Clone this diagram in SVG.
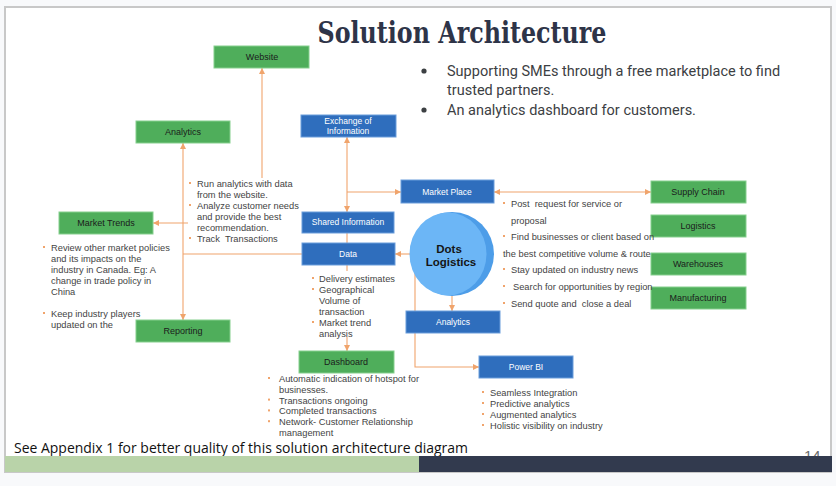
<svg xmlns="http://www.w3.org/2000/svg" width="836" height="486" viewBox="0 0 836 486">
<defs>
<style>
.bg{fill:#f8f9fb}
.slide{fill:#ffffff;stroke:#c8c8c8;stroke-width:2}
.g rect{fill:#4fae5b;stroke:#86cf8e;stroke-width:1}
.b rect{fill:#2f6ebd;stroke:#6a9ddb;stroke-width:1}
.g text{font-family:"Liberation Sans",Arial,sans-serif;font-size:9px;fill:#1b1b1b;text-anchor:middle}
.b text{font-family:"Liberation Sans",Arial,sans-serif;font-size:8.5px;fill:#ffffff;text-anchor:middle}
.c path{fill:none;stroke:#f0a46c;stroke-width:1.1}
.note text{font-family:"Liberation Sans",Arial,sans-serif;font-size:9.3px;fill:#444444;white-space:pre}
.note rect{fill:#f0a46c}
.top text{font-family:Roboto,"Liberation Sans",sans-serif;font-size:14.5px;fill:#3c4043}
</style>
<marker id="ar" viewBox="0 0 6 6" refX="6" refY="3" markerWidth="6" markerHeight="6" markerUnits="userSpaceOnUse" orient="auto-start-reverse">
<path d="M0,0 L6,3 L0,6 z" fill="#f0a46c"/>
</marker>
</defs>
<rect class="bg" x="0" y="0" width="836" height="486"/>
<rect class="slide" x="5" y="7" width="826" height="465"/>
<text x="462" y="43" font-family="'DejaVu Serif','Liberation Serif',serif" font-weight="bold" font-size="29" fill="#2e3448" text-anchor="middle" textLength="289" lengthAdjust="spacingAndGlyphs">Solution Architecture</text>
<g class="top">
<circle cx="424" cy="71" r="2.6" fill="#3c4043"/>
<text x="447" y="76">Supporting SMEs through a free marketplace to find</text>
<text x="447" y="95">trusted partners.</text>
<circle cx="424" cy="110" r="2.6" fill="#3c4043"/>
<text x="447" y="115">An analytics dashboard for customers.</text>
</g>

<g id="connectors" class="c">
<path d="M262,178 V68" marker-end="url(#ar)"/>
<path d="M183,320 V143" marker-start="url(#ar)" marker-end="url(#ar)"/>
<path d="M188,223 H153" marker-end="url(#ar)"/>
<path d="M183,254 H302"/>
<path d="M347,212 V137" marker-start="url(#ar)" marker-end="url(#ar)"/>
<path d="M347,192 H401" marker-end="url(#ar)"/>
<path d="M347,233 V243"/>
<path d="M412,254 H395" marker-end="url(#ar)"/>
<path d="M494,192 H651" marker-start="url(#ar)" marker-end="url(#ar)"/>
<path d="M452,296 V311" marker-end="url(#ar)"/>
<path d="M415,273 V367 H479" marker-end="url(#ar)"/>
<path d="M347,265 V271"/>
<path d="M347,337 V351" marker-end="url(#ar)"/>
</g>

<g id="website" class="g"><rect x="214" y="46" width="95" height="22"/><text x="262" y="60">Website</text></g>
<g id="analytics-green" class="g"><rect x="136" y="121" width="94" height="22"/><text x="183" y="135">Analytics</text></g>
<g id="market-trends" class="g"><rect x="59" y="212" width="94" height="22"/><text x="106" y="226">Market Trends</text></g>
<g id="reporting" class="g"><rect x="136" y="320" width="94" height="22"/><text x="183" y="334">Reporting</text></g>
<g id="dashboard" class="g"><rect x="299" y="351" width="95" height="22"/><text x="346" y="365">Dashboard</text></g>
<g id="supply-chain" class="g"><rect x="651" y="181" width="95" height="22"/><text x="698" y="195">Supply Chain</text></g>
<g id="logistics" class="g"><rect x="651" y="215" width="95" height="22"/><text x="698" y="229">Logistics</text></g>
<g id="warehouses" class="g"><rect x="651" y="253" width="95" height="22"/><text x="698" y="267">Warehouses</text></g>
<g id="manufacturing" class="g"><rect x="651" y="287" width="95" height="22"/><text x="698" y="301">Manufacturing</text></g>

<g id="exchange" class="b"><rect x="301" y="115" width="95" height="22"/><text x="348" y="124">Exchange of</text><text x="348" y="134">Information</text></g>
<g id="market-place" class="b"><rect x="401" y="180" width="93" height="23"/><text x="447" y="195">Market Place</text></g>
<g id="shared-info" class="b"><rect x="302" y="212" width="92" height="21"/><text x="348" y="225">Shared Information</text></g>
<g id="data" class="b"><rect x="302" y="243" width="93" height="22"/><text x="348" y="257">Data</text></g>
<g id="analytics-blue" class="b"><rect x="406" y="311" width="94" height="22"/><text x="453" y="325">Analytics</text></g>
<g id="power-bi" class="b"><rect x="479" y="356" width="94" height="22"/><text x="526" y="370" font-size="9.5">Power BI</text></g>

<g id="dots-logistics">
<circle cx="452" cy="254" r="42" fill="#4d9de8"/>
<ellipse cx="448" cy="254" rx="38.5" ry="41.5" fill="#6cb6f6"/>
<text x="449" y="253" font-family="'Liberation Sans',Arial,sans-serif" font-weight="bold" font-size="11.5" fill="#151515" text-anchor="middle">Dots</text>
<text x="451" y="266" font-family="'Liberation Sans',Arial,sans-serif" font-weight="bold" font-size="11.5" fill="#151515" text-anchor="middle">Logistics</text>
</g>

<g class="note">
<rect x="189" y="182" width="2" height="2"/><text x="197" y="187">Run analytics with data</text>
<text x="197" y="198">from the website.</text>
<rect x="189" y="204" width="2" height="2"/><text x="197" y="209">Analyze customer needs</text>
<text x="197" y="220">and provide the best</text>
<text x="197" y="231">recommendation.</text>
<rect x="189" y="237" width="2" height="2"/><text x="197" y="242">Track  Transactions</text>

<rect x="43" y="246" width="2" height="2"/><text x="51" y="251">Review other market policies</text>
<text x="51" y="262">and its impacts on the</text>
<text x="51" y="273">industry in Canada. Eg: A</text>
<text x="51" y="284">change in trade policy in</text>
<text x="51" y="295">China</text>
<rect x="43" y="312" width="2" height="2"/><text x="51" y="317">Keep industry players</text>
<text x="51" y="328">updated on the</text>

<rect x="312" y="277" width="2" height="2"/><text x="319" y="282">Delivery estimates</text>
<rect x="312" y="288" width="2" height="2"/><text x="319" y="293">Geographical</text>
<text x="319" y="304">Volume of</text>
<text x="319" y="315">transaction</text>
<rect x="312" y="321" width="2" height="2"/><text x="319" y="326">Market trend</text>
<text x="319" y="337">analysis</text>

<rect x="268" y="377" width="2" height="2"/><text x="279" y="382">Automatic indication of hotspot for</text>
<text x="279" y="392.8">businesses.</text>
<rect x="268" y="398.6" width="2" height="2"/><text x="279" y="403.6">Transactions ongoing</text>
<rect x="268" y="409.4" width="2" height="2"/><text x="279" y="414.4">Completed transactions</text>
<rect x="268" y="420.2" width="2" height="2"/><text x="279" y="425.2">Network- Customer Relationship</text>
<text x="279" y="435.5" font-size="9">management</text>

<rect x="482" y="391" width="2" height="2"/><text x="490" y="396">Seamless Integration</text>
<rect x="482" y="402" width="2" height="2"/><text x="490" y="407">Predictive analytics</text>
<rect x="482" y="413" width="2" height="2"/><text x="490" y="418">Augmented analytics</text>
<rect x="482" y="424" width="2" height="2"/><text x="490" y="429">Holistic visibility on industry</text>

<rect x="503" y="202" width="2" height="2"/><text x="511" y="207">Post  request for service or</text>
<text x="511" y="224">proposal</text>
<rect x="503" y="235" width="2" height="2"/><text x="511" y="240">Find businesses or client based on</text>
<text x="503" y="257">the best competitive volume &amp; route</text>
<rect x="503" y="268" width="2" height="2"/><text x="511" y="273">Stay updated on industry news</text>
<rect x="503" y="285" width="2" height="2"/><text x="513" y="290">Search for opportunities by region</text>
<rect x="503" y="302" width="2" height="2"/><text x="511" y="307">Send quote and  close a deal</text>
</g>

<text x="14" y="452.5" font-family="'Open Sans','Liberation Sans',sans-serif" font-size="14.5" fill="#111111" textLength="454" lengthAdjust="spacingAndGlyphs">See Appendix 1 for better quality of this solution architecture diagram</text>
<text x="804" y="461" font-family="'Liberation Sans',Arial,sans-serif" font-size="15" fill="#6b6b6b">14</text>
<rect x="5" y="456" width="414" height="16" fill="#b9d3a9"/>
<rect x="419" y="456" width="413" height="16" fill="#323a4e"/>
</svg>
